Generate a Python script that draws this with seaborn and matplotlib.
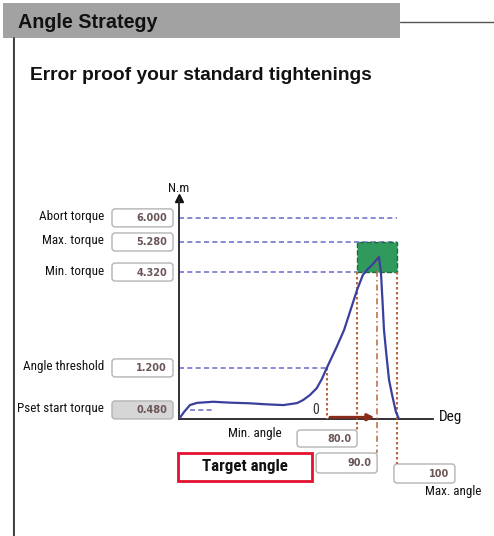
import matplotlib
matplotlib.use("Agg")
import matplotlib.pyplot as plt
from matplotlib.patches import Rectangle, FancyBboxPatch
import seaborn as sns

sns.set_theme(style="white")
plt.rcParams["font.family"] = ["Roboto Condensed", "Archivo Narrow", "Liberation Sans", "DejaVu Sans"]
HEAD_FONT = ["Liberation Sans", "DejaVu Sans"]

TITLE = "Angle Strategy"
SUBTITLE = "Error proof your standard tightenings"

# torque settings: label, value shown in the box, schematic height on the chart (0-100)
torque_labels = ["Abort torque", "Max. torque", "Min. torque", "Angle threshold", "Pset start torque"]
torque_values = ["6.000", "5.280", "4.320", "1.200", "0.480"]
torque_levels = [91.0, 80.1, 66.5, 23.1, 4.1]

# angle settings: label, value shown in the box, schematic position on the chart (0-100)
angle_labels = ["Min. angle", "Target angle", "Max. angle"]
angle_values = ["80.0", "90.0", "100"]
angle_positions = [70.1, 78.0, 85.8]
threshold_angle = 58.3

# tightening trace (schematic units)
curve_angle = [0.0, 2.0, 4.3, 7.1, 13.5, 20.0, 28.0, 35.0, 41.1, 46.5, 48.9, 51.5,
               54.2, 56.2, 58.1, 62.1, 65.0, 70.1, 72.4, 74.3, 76.0, 78.7,
               79.5, 80.1, 80.7, 81.7, 82.7, 83.9, 85.4, 86.6]
curve_torque = [0.0, 3.2, 6.3, 7.3, 7.8, 7.4, 7.1, 6.6, 6.3, 7.2, 8.6, 10.8,
                13.9, 18.0, 22.9, 32.7, 40.3, 58.4, 65.2, 67.8, 69.7, 73.3,
                66.5, 53.8, 40.3, 28.5, 17.6, 10.9, 3.2, 0.0]

# layout (pixels)
W, H = 494, 536
AX_LEFT, AX_RIGHT, AX_BOTTOM, AX_TOP = 179, 433, 419, 198
LABEL_SIZE = 9.4

LEVEL_BLUE = "#7676cc"
DOT_BROWN = "#b8683e"
CURVE_BLUE = "#3b3f9c"
BOX_EDGE = "#b4b4b4"
BOX_TEXT = "#6a5656"


def px_x(v):
    return AX_LEFT + v * (AX_RIGHT - AX_LEFT) / 100


def px_y(v):
    return AX_BOTTOM - v * (AX_BOTTOM - AX_TOP) / 100


def to_level(py):
    return (AX_BOTTOM - py) * 100 / (AX_BOTTOM - AX_TOP)


def value_box(ax, x0, y0, w, h, text, face="white"):
    ax.add_patch(FancyBboxPatch((x0, y0), w, h, boxstyle="round,pad=0,rounding_size=3",
                                facecolor=face, edgecolor=BOX_EDGE, lw=1.0))
    ax.text(x0 + w - 6, y0 + h / 2 + 0.5, text, ha="right", va="center",
            fontsize=7, fontweight="bold", color=BOX_TEXT, family="DejaVu Sans")


fig = plt.figure(figsize=(W / 100, H / 100), dpi=100)

# background / page decorations in pixel coordinates
bg = fig.add_axes([0, 0, 1, 1])
bg.set_xlim(0, W)
bg.set_ylim(H, 0)
bg.axis("off")

bg.add_patch(Rectangle((3, 3), 397, 35, facecolor="#a2a2a2", edgecolor="none"))
bg.plot([400, W], [22, 22], color="#555555", lw=1.0)
bg.text(18, 22, TITLE, ha="left", va="center", fontsize=14.2, fontweight="bold",
        color="#111111", family=HEAD_FONT)
bg.plot([13, 13], [38, H], color="#c8c8c8", lw=1.0)
bg.plot([14.3, 14.3], [38, H], color="#333333", lw=1.3)
bg.text(30, 75, SUBTITLE, ha="left", va="center", fontsize=13.8, fontweight="bold",
        color="#111111", family=HEAD_FONT)

# torque labels and boxes
for label, val, lev in zip(torque_labels, torque_values, torque_levels):
    yc = px_y(lev)
    bg.text(104, yc - 1, label, ha="right", va="center", fontsize=LABEL_SIZE, color="#111111")
    face = "#d6d6d6" if label.startswith("Pset") else "white"
    value_box(bg, 112, yc - 9, 61, 18, val, face=face)

bg.text(AX_LEFT, 189, "N.m", ha="center", va="center", fontsize=LABEL_SIZE, color="#111111")
bg.text(439, 417, "Deg", ha="left", va="center", fontsize=11, color="#111111")

# angle labels and boxes below the axis
min_x, tgt_x, max_x = (px_x(a) for a in angle_positions)
value_box(bg, min_x - 60, 430, 60, 17, angle_values[0])
bg.text(282, 434, angle_labels[0], ha="right", va="center", fontsize=LABEL_SIZE, color="#111111")
value_box(bg, tgt_x - 61, 453, 61, 20, angle_values[1])
bg.add_patch(Rectangle((178, 453), 134, 28, facecolor="white", edgecolor="#e3112f", lw=2.0))
bg.text(245, 467, angle_labels[1], ha="center", va="center", fontsize=12.2, fontweight="bold",
        color="#111111")
value_box(bg, max_x - 3, 464, 61, 19, angle_values[2])
bg.text(425, 492, angle_labels[2], ha="left", va="center", fontsize=LABEL_SIZE, color="#111111")

# chart axes in schematic units
ax = fig.add_axes([AX_LEFT / W, (H - AX_BOTTOM) / H,
                   (AX_RIGHT - AX_LEFT) / W, (AX_BOTTOM - AX_TOP) / H])
ax.set_xlim(0, 100)
ax.set_ylim(0, 100)
ax.patch.set_visible(False)
for side in ["top", "right"]:
    ax.spines[side].set_visible(False)
for side in ["left", "bottom"]:
    ax.spines[side].set_color("#222222")
    ax.spines[side].set_linewidth(1.3)
ax.set_xticks([])
ax.set_yticks([])
ax.plot(0, 1, marker="^", color="#111111", ms=6, transform=ax.transAxes, clip_on=False)

abort, tmax, tmin, thresh, pset = torque_levels
a_min, a_tgt, a_max = angle_positions

# dashed torque levels
dash = dict(color=LEVEL_BLUE, lw=1.2, linestyles=(0, (3, 2)))
ax.hlines(abort, 0, a_max, **dash)
ax.hlines(tmax, 0, a_max, **dash)
ax.hlines(tmin, 0, a_min, **dash)
ax.hlines(thresh, 0, threshold_angle, **dash)
ax.hlines(pset, 4.3, 13.8, **dash)

# OK window
ax.add_patch(Rectangle((a_min, tmin), a_max - a_min, tmax - tmin, facecolor="#2f9a5c",
                       edgecolor="#1e6b3c", lw=1.0, ls="--", zorder=2))

# vertical angle markers
dot = dict(color=DOT_BROWN, lw=1.5, ls=(0, (1.2, 1.2)), clip_on=False, zorder=3)
ax.plot([threshold_angle, threshold_angle], [thresh, 0], **dot)
ax.plot([a_min, a_min], [tmin, to_level(430)], **dot)
ax.plot([a_max, a_max], [tmin, to_level(464)], **dot)
ax.plot([a_tgt, a_tgt], [max(curve_torque), to_level(453)], color=DOT_BROWN, lw=1.1,
        ls=(0, (4, 2, 1, 2)), clip_on=False, zorder=3)

# trace
sns.lineplot(x=curve_angle, y=curve_torque, ax=ax, color=CURVE_BLUE, lw=1.6,
             sort=False, estimator=None, zorder=4)

# angle counting arrow from the threshold to the target
ax.annotate("", xy=(a_tgt, 0.8), xytext=(threshold_angle, 0.8),
            arrowprops=dict(arrowstyle="-|>", color="#8b2b1b", lw=2.0, mutation_scale=10),
            zorder=5)
ax.text(threshold_angle - 4.5, 4.0, "0", ha="center", va="center", fontsize=10, color="#333333")

fig.savefig("out.png", dpi=100)
